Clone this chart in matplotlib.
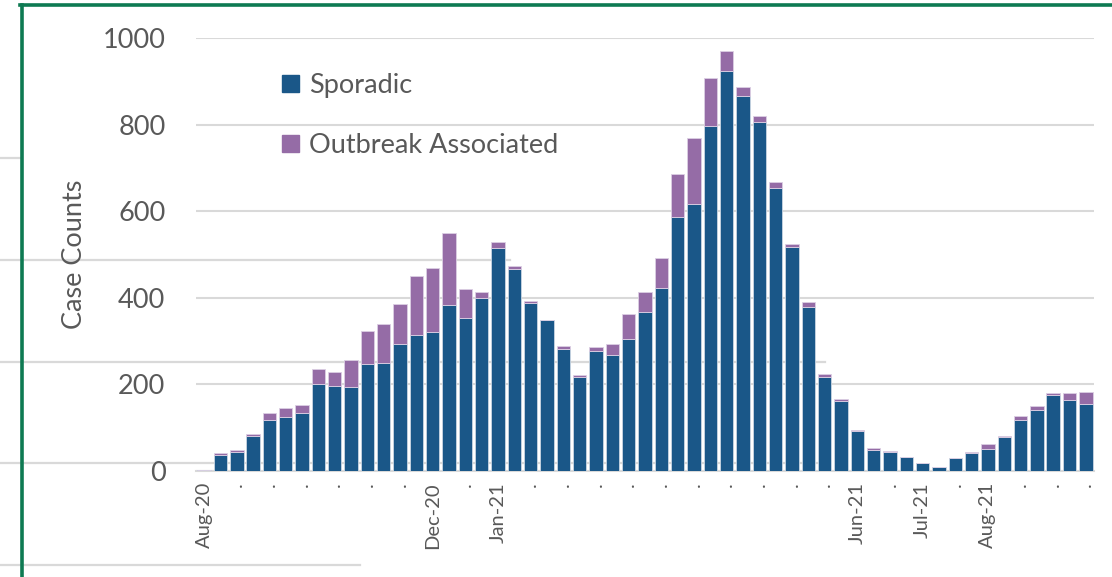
import matplotlib.pyplot as plt
from matplotlib.lines import Line2D
from matplotlib.patches import Patch

# weekly case counts, Aug-20 .. Aug-21
sporadic = [3, 37, 44, 81, 118, 125, 135, 200, 196, 193,
            247, 250, 293, 315, 322, 383, 353, 400, 516, 467,
            389, 348, 282, 218, 276, 267, 306, 368, 422, 587,
            616, 797, 924, 867, 807, 654, 518, 378, 218, 162,
            92, 48, 44, 33, 18, 9, 30, 41, 50, 78,
            117, 142, 175, 165, 155]
outbreak = [0, 4, 4, 4, 17, 20, 18, 36, 32, 63,
            76, 90, 92, 135, 146, 167, 67, 14, 14, 6,
            4, 1, 6, 4, 10, 26, 57, 46, 70, 98,
            154, 110, 47, 20, 13, 13, 6, 13, 7, 4,
            3, 5, 2, 0, 0, 0, 0, 3, 12, 3,
            9, 8, 4, 14, 27]
month_labels = {0: "Aug-20", 14: "Dec-20", 18: "Jan-21", 40: "Jun-21",
                44: "Jul-21", 48: "Aug-21"}

blue = "#1a5788"
purple = "#956ca6"
grey_text = "#595959"

plt.rcParams["font.family"] = ["Lato", "DejaVu Sans"]

fig = plt.figure(figsize=(11.12, 5.77), dpi=100)
W, H = 1112, 577

# stray lines from the screenshot behind the chart
for y, x1 in [(158, 20), (260, 510), (362, 825), (463, 830), (565, 360)]:
    fig.add_artist(Line2D([0, x1 / W], [1 - y / H, 1 - y / H], color="#d9d9d9",
                          lw=1.6, zorder=-2, transform=fig.transFigure))

ax = fig.add_axes([196 / W, 1 - 471 / H, 898 / W, 433 / H])
ax.patch.set_alpha(0)

x = list(range(len(sporadic)))
ax.bar(x, sporadic, width=0.82, color=blue, edgecolor="#c9d6e3", linewidth=0.6, zorder=3)
ax.bar(x, outbreak, bottom=sporadic, width=0.82, color=purple, edgecolor="#dccfe3",
       linewidth=0.6, zorder=3)

ax.set_xlim(-0.5, len(sporadic) - 0.5)
ax.set_ylim(0, 1000)
ax.set_yticks(range(0, 1001, 200))
ax.grid(axis="y", color="#d9d9d9", lw=1.5, zorder=0)
ax.tick_params(axis="y", length=0, pad=22, labelsize=19.5, labelcolor=grey_text)

ticks = list(range(0, len(sporadic), 2))
ax.set_xticks(ticks)
ax.set_xticklabels([month_labels.get(t, ".") for t in ticks], rotation=90,
                   ha="center", va="top")
ax.tick_params(axis="x", length=0, pad=8, labelsize=14.5, labelcolor=grey_text)

for s in ["top", "right", "left"]:
    ax.spines[s].set_visible(False)
ax.spines["bottom"].set_color("#d9d9d9")
ax.spines["bottom"].set_linewidth(1.5)

ax.set_ylabel("Case Counts", fontsize=19.5, color=grey_text)
ax.yaxis.set_label_coords(-0.121, 0.5)

handles = [Patch(color=blue, label="Sporadic"), Patch(color=purple, label="Outbreak Associated")]
ax.legend(handles=handles, loc="upper left", bbox_to_anchor=(62 / 898, 0.975),
          frameon=False, fontsize=19.5, labelcolor=grey_text, handlelength=0.6,
          handleheight=0.6, handletextpad=0.4, labelspacing=1.3)

# green frame
green = "#0e7a52"
fig.add_artist(Line2D([20 / W, 1], [1 - 5 / H, 1 - 5 / H], color=green, lw=2.6,
                      transform=fig.transFigure))
fig.add_artist(Line2D([21.5 / W, 21.5 / W], [0, 1 - 5 / H], color=green, lw=2.6,
                      transform=fig.transFigure))

fig.savefig("out.png", dpi=100)
